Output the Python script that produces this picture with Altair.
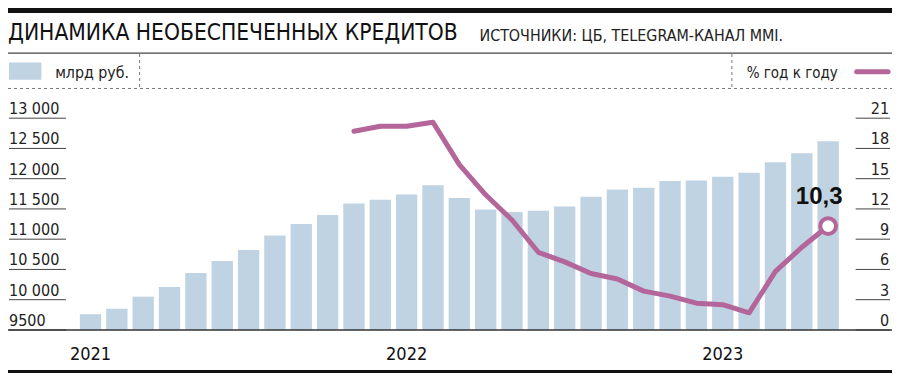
import altair as alt
import pandas as pd

# ---------------- data ----------------
months = [f"{y}-{m:02d}" for y in (2021, 2022, 2023) for m in range(1, 13)][:29]
credits = [9760, 9850, 10050, 10210, 10440, 10640, 10820, 11060, 11250, 11400,
           11590, 11650, 11740, 11890, 11680, 11490, 11450, 11470, 11540, 11700,
           11820, 11850, 11960, 11970, 12030, 12100, 12270, 12420, 12620]
yoy = [None] * 10 + [19.7, 20.2, 20.2, 20.6, 16.4, 13.4, 10.9, 7.7, 6.75, 5.6,
                     5.05, 3.85, 3.35, 2.65, 2.5, 1.7, 5.8, 8.2, 10.3]
left_ticks = [9500, 10000, 10500, 11000, 11500, 12000, 12500, 13000]
left_labels = ["9500", "10 000", "10 500", "11 000", "11 500", "12 000", "12 500", "13 000"]
right_ticks = [0, 3, 6, 9, 12, 15, 18, 21]
right_labels = ["0", "3", "6", "9", "12", "15", "18", "21"]
year_months = ["2021-01", "2022-01", "2023-01"]
year_labels = ["2021", "2022", "2023"]
title = "ДИНАМИКА НЕОБЕСПЕЧЕННЫХ КРЕДИТОВ"
source = "ИСТОЧНИКИ: ЦБ, TELEGRAM-КАНАЛ MMI."
legend_bar = "млрд руб."
legend_line = "% год к году"
last_label = "10,3"

# ---------------- layout helpers ----------------
W, H = 884, 366
def X(v):
    return v * W / 900
def Y(v):
    return v * H / 382

BAR = "#bfd3e3"
LINE = "#b4669b"
NARROW = "DejaVu Sans Condensed"

df = pd.DataFrame({"month": months, "credit": credits, "yoy": yoy})
df_line = df.dropna(subset=["yoy"])
df_last = df_line.tail(1).assign(lab=last_label)
df_lt = pd.DataFrame({"v": left_ticks, "lab": left_labels})
df_rt = pd.DataFrame({"v": right_ticks, "lab": right_labels})
df_years = pd.DataFrame({"month": year_months, "lab": year_labels})
one = pd.DataFrame({"a": [0]})

xscale = alt.Scale(domain=months, range=[X(70.6), X(848.4)],
                   paddingInner=0.19, paddingOuter=0.095)
lscale = alt.Scale(domain=[9500, 13000], range=[Y(336), Y(115)], nice=False, zero=False)
rscale = alt.Scale(domain=[0, 21], range=[Y(336), Y(115)], nice=False, zero=False)

xenc = alt.X("month:N", scale=xscale, axis=None, bandPosition=0.5)

bars = alt.Chart(df).mark_bar(color=BAR).encode(
    x=alt.X("month:N", scale=xscale, axis=None),
    y=alt.Y("credit:Q", scale=lscale, axis=None),
    y2=alt.datum(9500),
)

line = alt.Chart(df_line).mark_line(color=LINE, strokeWidth=5, strokeCap="round",
                                    strokeJoin="round").encode(
    x=xenc, y=alt.Y("yoy:Q", scale=rscale, axis=None))

last_pt = alt.Chart(df_last).mark_point(shape="circle", filled=False, size=250,
                                        strokeWidth=4, color=LINE, fill="white",
                                        fillOpacity=1, opacity=1).encode(
    x=xenc, y=alt.Y("yoy:Q", scale=rscale, axis=None))

last_txt = alt.Chart(df_last).mark_text(font="Liberation Sans", fontWeight="bold",
                                        fontSize=24, color="#111", dx=-9, dy=-22,
                                        baseline="alphabetic").encode(
    x=xenc, y=alt.Y("yoy:Q", scale=rscale, axis=None), text="lab:N")

# left ticks
lt_rules = alt.Chart(df_lt).mark_rule(color="#444", strokeWidth=1).encode(
    y=alt.Y("v:Q", scale=lscale, axis=None), x=alt.value(X(1)), x2=alt.value(X(59)))
lt_text = alt.Chart(df_lt).mark_text(font=NARROW, fontSize=16, color="#222",
                                     align="left", baseline="alphabetic", dy=-4).encode(
    y=alt.Y("v:Q", scale=lscale, axis=None), x=alt.value(X(1)), text="lab:N")
# right ticks
rt_rules = alt.Chart(df_rt).mark_rule(color="#444", strokeWidth=1).encode(
    y=alt.Y("v:Q", scale=rscale, axis=None), x=alt.value(X(863)), x2=alt.value(X(898)))
rt_text = alt.Chart(df_rt).mark_text(font=NARROW, fontSize=16, color="#222",
                                     align="right", baseline="alphabetic", dy=-4).encode(
    y=alt.Y("v:Q", scale=rscale, axis=None), x=alt.value(X(897)), text="lab:N")

baseline = alt.Chart(df_lt.head(1)).mark_rule(color="#333", strokeWidth=1.5).encode(
    y=alt.Y("v:Q", scale=lscale, axis=None), x=alt.value(0), x2=alt.value(W))

years = alt.Chart(df_years).mark_text(font=NARROW, fontSize=18, color="#111",
                                      baseline="alphabetic").encode(
    x=xenc, y=alt.value(Y(367)), text="lab:N")

# decorations
def hrule(y, color, width, dash=None):
    kw = dict(color=color, strokeWidth=width)
    if dash:
        kw["strokeDash"] = dash
    return alt.Chart(one).mark_rule(**kw).encode(
        x=alt.value(0), x2=alt.value(W), y=alt.value(y))

def vrule(x, y1, y2):
    return alt.Chart(one).mark_rule(color="#777", strokeWidth=1, strokeDash=[3, 3]).encode(
        x=alt.value(x), y=alt.value(y1), y2=alt.value(y2))

def txt(s, x, y, size, align="left", font=NARROW, color="#111"):
    return alt.Chart(pd.DataFrame({"t": [s]})).mark_text(
        font=font, fontSize=size, align=align, baseline="alphabetic", color=color).encode(
        x=alt.value(x), y=alt.value(y), text="t:N")

top_bar = hrule(Y(2.5), "#111", 5)
title_rule = hrule(Y(47), "#444", 1.2)
dotted_h = hrule(Y(84), "#777", 1, [3, 3])
bottom_bar = hrule(Y(379.5), "#111", 3)
v1 = vrule(X(134), Y(48), Y(84))
v2 = vrule(X(737), Y(48), Y(84))

title_t = txt(title, X(0), Y(33.5), 22.6)
source_t = txt(source, X(480), Y(34.5), 15.9, color="#222")
leg_bar_t = txt(legend_bar, X(48), Y(73), 15.8, color="#222")
leg_line_t = txt(legend_line, X(752), Y(73), 15, color="#222")

swatch = alt.Chart(one).mark_rect(color=BAR).encode(
    x=alt.value(X(1)), x2=alt.value(X(34)), y=alt.value(Y(57)), y2=alt.value(Y(75)))
leg_line = alt.Chart(one).mark_rule(color=LINE, strokeWidth=5, strokeCap="round").encode(
    x=alt.value(X(864)), x2=alt.value(X(896)), y=alt.value(Y(66.5)))

chart = alt.layer(
    bars, lt_rules, rt_rules, baseline, lt_text, rt_text, years,
    line, last_pt, last_txt,
    top_bar, title_rule, dotted_h, bottom_bar, v1, v2,
    title_t, source_t, leg_bar_t, leg_line_t, swatch, leg_line,
).resolve_scale(y="independent").properties(
    width=W, height=H, autosize=alt.AutoSizeParams(type="none"), padding=0,
    background="white",
).configure_view(strokeWidth=0)

chart.save("out.html", embed_options={"renderer": "svg", "actions": False})
